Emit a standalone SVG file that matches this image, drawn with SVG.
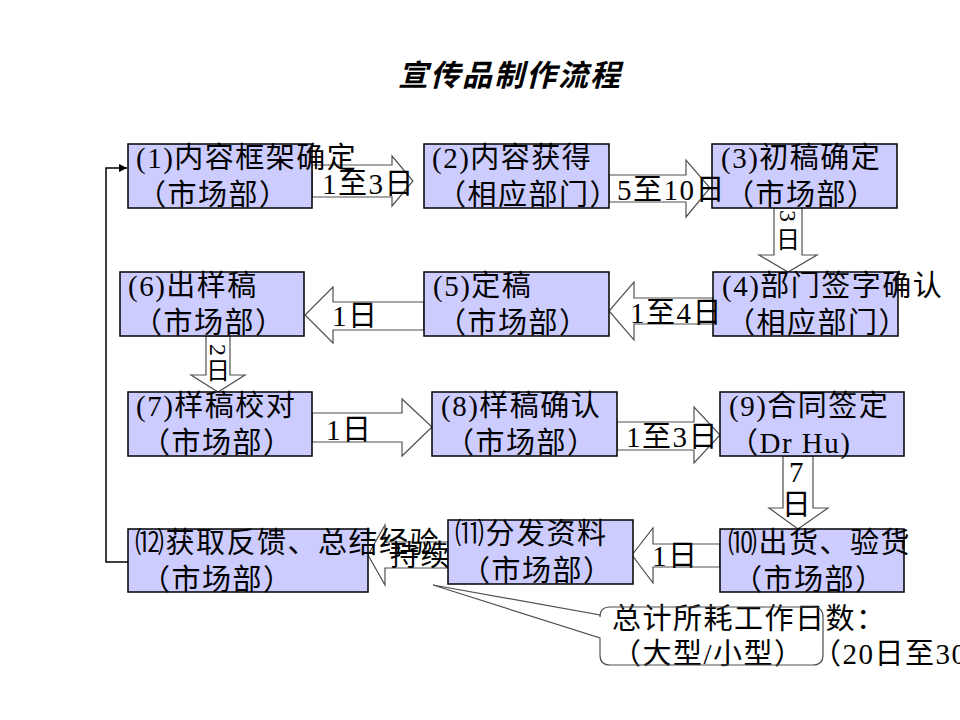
<svg xmlns="http://www.w3.org/2000/svg" width="960" height="720" viewBox="0 0 960 720">
<style>
.box{fill:#ccccff;stroke:#000;stroke-width:1.5}
.t{font-family:'Liberation Serif','Noto Sans CJK SC',serif;font-size:29px;letter-spacing:1.5px;fill:#000}
.v{font-family:'Liberation Serif','Noto Sans CJK SC',serif;font-size:24px;fill:#000}
.arr{fill:#fff;stroke:#505050;stroke-width:1.2;stroke-linejoin:miter}
.title{font-family:'Noto Sans CJK SC',sans-serif;font-size:30px;font-weight:bold;font-style:italic;fill:#000}
.ln{fill:none;stroke:#000;stroke-width:1.5}
.co{fill:none;stroke:#505050;stroke-width:1.2}
</style>
<defs>
<marker id="ah" viewBox="0 0 10 10" refX="10" refY="5" markerWidth="9" markerHeight="8" markerUnits="userSpaceOnUse" orient="auto"><path d="M0,0 L10,5 L0,10 Z" fill="#000"/></marker>
</defs>
<rect width="960" height="720" fill="#fff"/>
<text class="title" x="510" y="86" text-anchor="middle" letter-spacing="2">宣传品制作流程</text>

<g id="connectors">
<polygon class="arr" points="312,165 392,165 392,156 413,181 392,206 392,197 312,197"/>
<polygon class="arr" points="609,175 686,175 686,160 710,188 686,217 686,202 609,202"/>
<polygon class="arr" points="774,208 802,208 802,255 817,255 788,272 759,255 774,255"/>
<polygon class="arr" points="713,298 634,298 634,282 609,311 634,340 634,324 713,324"/>
<polygon class="arr" points="424,302 333,302 333,287 305,315 333,343 333,330 424,330"/>
<polygon class="arr" points="206,336 230,336 230,375 245,375 218,392 191,375 206,375"/>
<polygon class="arr" points="312,413 402,413 402,399 432,427 402,456 402,442 312,442"/>
<polygon class="arr" points="617,422 694,422 694,407 720,435 694,463 694,450 617,450"/>
<polygon class="arr" points="783,456 813,456 813,508 828,508 798,529 769,508 783,508"/>
<polygon class="arr" points="720,544 653,544 653,528 632,555 653,583 653,567 720,567"/>
<polygon class="arr" points="448,542 385,542 385,525 368,555 385,585 385,568 448,568"/>
<path class="ln" d="M128,562 H106 V168 H127" marker-end="url(#ah)"/>
</g>

<g id="n1"><rect class="box" x="128" y="144" width="184" height="64"/>
<text class="t" x="136" y="168">(1)内容框架确定</text><text class="t" x="137" y="205">（市场部）</text></g>
<g id="n2"><rect class="box" x="424" y="144" width="185" height="64"/>
<text class="t" x="432" y="168">(2)内容获得</text><text class="t" x="437" y="205">（相应部门）</text></g>
<g id="n3"><rect class="box" x="712" y="144" width="185" height="64"/>
<text class="t" x="721" y="168">(3)初稿确定</text><text class="t" x="725" y="205">（市场部）</text></g>
<g id="n4"><rect class="box" x="713" y="272" width="185" height="64"/>
<text class="t" x="722" y="296">(4)部门签字确认</text><text class="t" x="726" y="333">（相应部门）</text></g>
<g id="n5"><rect class="box" x="424" y="272" width="185" height="64"/>
<text class="t" x="433" y="296">(5)定稿</text><text class="t" x="437" y="333">（市场部）</text></g>
<g id="n6"><rect class="box" x="120" y="272" width="184" height="64"/>
<text class="t" x="128" y="296">(6)出样稿</text><text class="t" x="133" y="333">（市场部）</text></g>
<g id="n7"><rect class="box" x="128" y="392" width="184" height="64"/>
<text class="t" x="136" y="416">(7)样稿校对</text><text class="t" x="141" y="453">（市场部）</text></g>
<g id="n8"><rect class="box" x="432" y="392" width="185" height="64"/>
<text class="t" x="441" y="416">(8)样稿确认</text><text class="t" x="445" y="453">（市场部）</text></g>
<g id="n9"><rect class="box" x="720" y="392" width="184" height="64"/>
<text class="t" x="729" y="416">(9)合同签定</text><text class="t" x="729" y="453">（Dr Hu)</text></g>
<g id="n10"><rect class="box" x="720" y="529" width="184" height="63"/>
<text class="t" x="728" y="553">⑽出货、验货</text><text class="t" x="733" y="590">（市场部）</text></g>
<g id="n12"><rect class="box" x="128" y="529" width="240" height="63"/>
<text class="t" x="135" y="553">⑿获取反馈、总结经验</text><text class="t" x="141" y="590">（市场部）</text></g>
<g id="n11"><rect class="box" x="448" y="520" width="185" height="64"/>
<text class="t" x="455" y="544">⑾分发资料</text><text class="t" x="461" y="581">（市场部）</text></g>

<g id="labels">
<text class="t" x="322" y="194">1至3日</text>
<text class="t" x="617" y="200">5至10日</text>
<text class="v" x="788" y="216" text-anchor="middle" dominant-baseline="central" transform="rotate(90 788 216)">3</text>
<text class="v" x="788" y="248" text-anchor="middle">日</text>
<text class="t" x="630" y="323">1至4日</text>
<text class="t" x="332" y="326">1日</text>
<text class="v" x="218" y="350" text-anchor="middle" dominant-baseline="central" transform="rotate(90 218 350)">2</text>
<text class="v" x="218" y="379" text-anchor="middle">日</text>
<text class="t" x="326" y="440">1日</text>
<text class="t" x="626" y="447">1至3日</text>
<text class="t" x="797" y="482" text-anchor="middle">7</text>
<text class="t" x="797" y="515" text-anchor="middle">日</text>
<text class="t" x="652" y="566">1日</text>
<text class="t" x="390" y="566">持续</text>
</g>

<g id="callout">
<text class="t" x="612" y="629">总计所耗工作日数：</text>
<text class="t" x="612" y="664">（大型/小型）</text>
<text class="t" x="812" y="664">（20日至30</text>
<path class="co" d="M610,607 H813 Q823,607 823,617 V655 Q823,665 813,665 H610 Q600,665 600,655 V638 L433,585 L600,615 V617 Q600,607 610,607 Z"/>
</g>
</svg>
